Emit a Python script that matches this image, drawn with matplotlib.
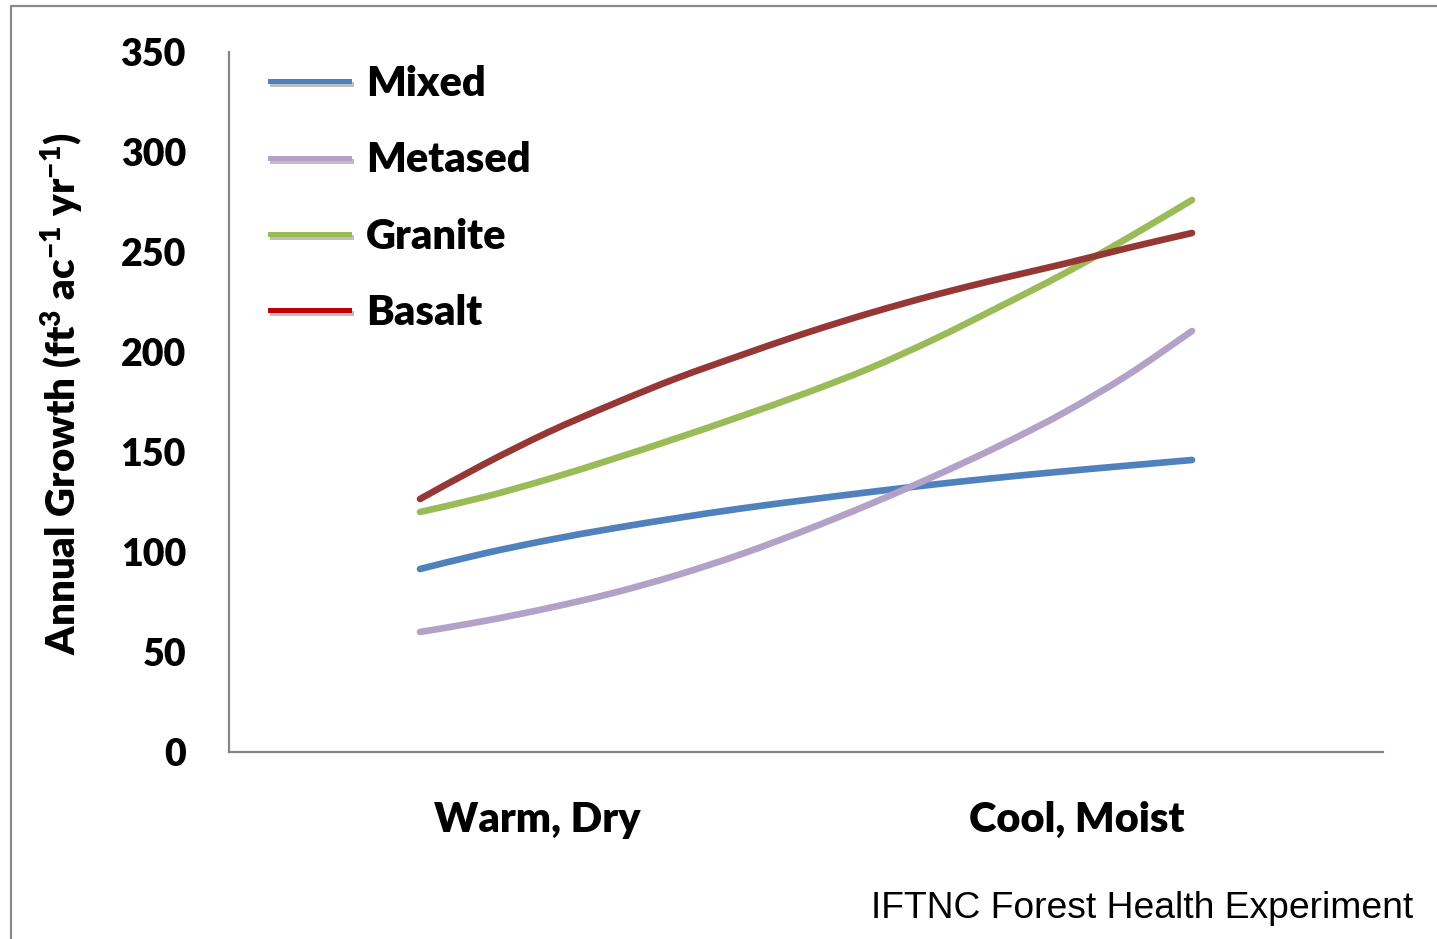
import matplotlib
matplotlib.use("Agg")
import matplotlib.pyplot as plt
from matplotlib.lines import Line2D
from matplotlib.path import Path
from matplotlib.patches import PathPatch
import matplotlib.patheffects as pe

plt.rcParams['font.family'] = ['Lato', 'DejaVu Sans']
plt.rcParams['font.weight'] = 'heavy'
plt.rcParams['mathtext.fontset'] = 'custom'
plt.rcParams['mathtext.rm'] = 'Lato:heavy'
plt.rcParams['mathtext.default'] = 'rm'

# position along the climate gradient (0 = warm/dry end, 1 = cool/moist end)
gradient = [0.0, 0.0833, 0.1667, 0.25, 0.3333, 0.4167, 0.5,
            0.5833, 0.6667, 0.75, 0.8333, 0.9167, 1.0]

mixed = [91.5, 99.3, 106.0, 111.8, 117.0, 121.8, 126.0,
         130.0, 133.8, 137.2, 140.3, 143.2, 146.0]
metased = [60.0, 65.5, 72.0, 79.5, 88.5, 99.0, 111.0,
           124.0, 138.0, 153.0, 169.5, 188.5, 210.5]
granite = [120.0, 127.5, 136.5, 146.5, 157.0, 168.0, 179.5,
           192.0, 206.5, 222.5, 239.0, 257.0, 276.0]
basalt = [126.5, 144.0, 160.0, 174.0, 187.0, 198.5, 209.5,
          219.5, 228.5, 236.5, 244.0, 252.0, 259.5]

series = ['Mixed', 'Metased', 'Granite', 'Basalt']
line_colors = ['#4F81BD', '#B3A2C7', '#9BBB59', '#953735']
legend_colors = ['#4F81BD', '#B3A2C7', '#9BBB59', '#C00000']

category_pos = [0.1516, 0.851]
category_labels = ['Warm, Dry', 'Cool, Moist']
yticks = [0, 50, 100, 150, 200, 250, 300, 350]


def smooth_path(xs, ys):
    # cubic bezier through every point, Excel-style smoothed line
    verts = [(xs[0], ys[0])]
    codes = [Path.MOVETO]
    n = len(xs)
    for i in range(n - 1):
        x0, y0 = xs[max(i - 1, 0)], ys[max(i - 1, 0)]
        x1, y1 = xs[i], ys[i]
        x2, y2 = xs[i + 1], ys[i + 1]
        x3, y3 = xs[min(i + 2, n - 1)], ys[min(i + 2, n - 1)]
        c1 = (x1 + (x2 - x0) / 6, y1 + (y2 - y0) / 6)
        c2 = (x2 - (x3 - x1) / 6, y2 - (y3 - y1) / 6)
        verts += [c1, c2, (x2, y2)]
        codes += [Path.CURVE4] * 3
    return Path(verts, codes)


fig = plt.figure(figsize=(14.37, 9.39), dpi=100)
ax = fig.add_axes([229 / 1437, (939 - 752) / 939, 1154 / 1437, 700 / 939])

for vals, col in zip([mixed, metased, granite, basalt], line_colors):
    ax.add_patch(PathPatch(smooth_path(gradient, vals), facecolor='none',
                           edgecolor=col, lw=4.8, capstyle='round',
                           joinstyle='round', zorder=3))

ax.set_xlim(-0.2474, 1.2474)
ax.set_ylim(0, 350)
ax.set_yticks(yticks)
ax.set_xticks(category_pos)
ax.set_xticklabels(category_labels, fontsize=30)
ax.tick_params(axis='y', length=0, pad=31, labelsize=27)
ax.tick_params(axis='x', length=0, pad=35)

for side in ['top', 'right']:
    ax.spines[side].set_visible(False)
for side in ['left', 'bottom']:
    ax.spines[side].set_color('#868686')
    ax.spines[side].set_linewidth(1.6)

ax.set_ylabel(r'Annual Growth (ft$^{3}$ ac$^{-1}$ yr$^{-1}$)', fontsize=29,
              fontweight='heavy')
ax.yaxis.set_label_coords(-0.124, 0.512)

handles = [Line2D([0], [0], color=c, lw=3.6,
                  path_effects=[pe.SimpleLineShadow(offset=(1.5, -2), alpha=0.25),
                                pe.Normal()])
           for c in legend_colors]
ax.legend(handles, series, loc='upper left', bbox_to_anchor=(0.003, 1.035),
          frameon=False, fontsize=30, handlelength=1.9, handletextpad=0.4,
          labelspacing=0.92)

fig.text(1413 / 1437, (939 - 918) / 939, 'IFTNC Forest Health Experiment',
         family='Liberation Sans', fontweight='normal', fontsize=26.8,
         ha='right', va='baseline')

# outer frame along the top and left edges
fig.add_artist(Line2D([11 / 1437, 11 / 1437, 1.0], [0.0, 1 - 6 / 939, 1 - 6 / 939],
                      transform=fig.transFigure, color='#8A8A8A', lw=1.6))

fig.savefig('out.png', dpi=100)
